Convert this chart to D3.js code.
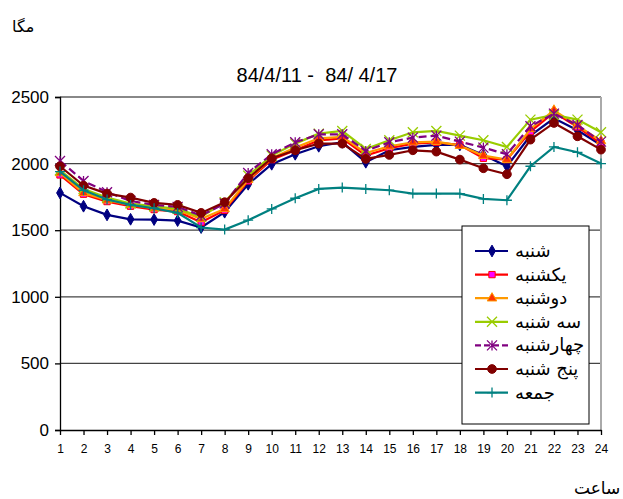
<!DOCTYPE html>
<html lang="fa">
<head>
<meta charset="utf-8">
<title>مگا</title>
<script src="https://d3js.org/d3.v7.min.js"></script>
<style>
  body { margin: 0; background: #fff; }
  .axis text { font-family: Arial, "Liberation Sans", sans-serif; fill: #000; }
  .fa { font-family: "DejaVu Serif", "DejaVu Sans", serif; }
</style>
</head>
<body>
<script>
// hours on the x axis
const hours = d3.range(1, 25);
const yTicks = [0, 500, 1000, 1500, 2000, 2500];

const dayNames = ["شنبه", "یکشنبه", "دوشنبه", "سه شنبه", "چهارشنبه", "پنج شنبه", "جمعه"];

// load values (MW)
const shanbe = [1780, 1680, 1615, 1582, 1580, 1572, 1520, 1635, 1845, 1995, 2070, 2130, 2160, 2010, 2100, 2125, 2140, 2140, 2065, 1980, 2210, 2340, 2250, 2140];
const yekshanbe = [1915, 1770, 1715, 1680, 1655, 1640, 1560, 1650, 1870, 2030, 2100, 2175, 2190, 2060, 2115, 2150, 2160, 2140, 2040, 2030, 2240, 2385, 2275, 2150];
const doshanbe = [1930, 1780, 1725, 1690, 1665, 1650, 1585, 1660, 1880, 2040, 2120, 2190, 2200, 2080, 2130, 2160, 2165, 2135, 2060, 2030, 2260, 2400, 2285, 2170];
const seshanbe = [1950, 1810, 1745, 1700, 1680, 1660, 1600, 1710, 1910, 2060, 2150, 2225, 2245, 2110, 2175, 2235, 2245, 2210, 2175, 2125, 2330, 2365, 2330, 2235];
const chaharshanbe = [2020, 1870, 1785, 1720, 1690, 1675, 1610, 1700, 1930, 2070, 2160, 2220, 2220, 2095, 2160, 2195, 2210, 2165, 2120, 2070, 2280, 2375, 2290, 2165];
const panjshanbe = [1980, 1835, 1775, 1745, 1705, 1690, 1630, 1710, 1890, 2040, 2100, 2150, 2150, 2035, 2065, 2100, 2090, 2030, 1965, 1920, 2180, 2305, 2205, 2105];
const jome = [1940, 1800, 1730, 1690, 1665, 1630, 1520, 1505, 1575, 1660, 1740, 1810, 1820, 1810, 1800, 1775, 1775, 1775, 1735, 1725, 1980, 2125, 2085, 2000];

const series = [
  { name: dayNames[0], values: shanbe, line: "#000080", fill: "#000080", marker: "diamond" },
  { name: dayNames[1], values: yekshanbe, line: "#ff0000", fill: "#ff00ff", marker: "square" },
  { name: dayNames[2], values: doshanbe, line: "#ff9900", fill: "#ff3300", marker: "triangle" },
  { name: dayNames[3], values: seshanbe, line: "#99cc00", fill: "#99cc00", marker: "x" },
  { name: dayNames[4], values: chaharshanbe, line: "#800080", fill: "#800080", marker: "star", dash: "8,4" },
  { name: dayNames[5], values: panjshanbe, line: "#800000", fill: "#800000", marker: "circle" },
  { name: dayNames[6], values: jome, line: "#008080", fill: "#008080", marker: "plus" }
];

const width = 623, height = 499;
const svg = d3.select("body").append("svg")
  .attr("width", width).attr("height", height);

const x = d3.scalePoint().domain(hours).range([60, 601]);
const y = d3.scaleLinear().domain([0, 2500]).range([430, 97]);

// gridlines
svg.append("g").selectAll("line")
  .data(yTicks.filter(d => d > 0))
  .join("line")
  .attr("x1", 60).attr("x2", 601)
  .attr("y1", d => y(d)).attr("y2", d => y(d))
  .attr("stroke", d => d === 2500 ? "#888" : "#444")
  .attr("stroke-width", d => d === 2500 ? 2 : 1.3);

// right border of plot area
svg.append("line")
  .attr("x1", 601).attr("x2", 601).attr("y1", 97).attr("y2", 430)
  .attr("stroke", "#aaa").attr("stroke-width", 2);

// axes
const yAxis = svg.append("g").attr("class", "axis")
  .attr("transform", "translate(60,0)")
  .call(d3.axisLeft(y).tickValues(yTicks).tickSize(5).tickPadding(6).tickFormat(d3.format("d")));
yAxis.selectAll("text").style("font-size", "17px");
yAxis.selectAll("line, path").attr("stroke", "#000").attr("stroke-width", 1.3);

const xAxis = svg.append("g").attr("class", "axis")
  .attr("transform", "translate(0,430)")
  .call(d3.axisBottom(x).tickSize(5).tickPadding(9).tickSizeOuter(0));
xAxis.selectAll("text").style("font-size", "12px");
xAxis.selectAll("line, path").attr("stroke", "#000").attr("stroke-width", 1.3);

function markerPath(type, s) {
  if (type === "diamond") return d3.symbol(d3.symbolDiamond, 40)();
  if (type === "square") return d3.symbol(d3.symbolSquare, 40)();
  if (type === "triangle") return d3.symbol(d3.symbolTriangle, 40)();
  if (type === "circle") return d3.symbol(d3.symbolCircle, 60)();
  if (type === "x") return `M${-s},${-s}L${s},${s}M${-s},${s}L${s},${-s}`;
  if (type === "star") return `M${-s},${-s}L${s},${s}M${-s},${s}L${s},${-s}M0,${-s}L0,${s}`;
  if (type === "plus") return `M${-s},0L${s},0M0,${-s}L0,${s}`;
}
const strokeOnly = t => t === "x" || t === "star" || t === "plus";

const line = d3.line().x((d, i) => x(hours[i])).y(d => y(d));

series.forEach(s => {
  const g = svg.append("g");
  g.append("path")
    .attr("d", line(s.values))
    .attr("fill", "none")
    .attr("stroke", s.line)
    .attr("stroke-width", 2.2)
    .attr("stroke-dasharray", s.dash || null);
  g.selectAll("path.m")
    .data(s.values)
    .join("path")
    .attr("class", "m")
    .attr("transform", (d, i) => `translate(${x(hours[i])},${y(d)})`)
    .attr("d", markerPath(s.marker, 5))
    .attr("fill", strokeOnly(s.marker) ? "none" : s.fill)
    .attr("stroke", strokeOnly(s.marker) ? s.fill : s.line)
    .attr("stroke-width", strokeOnly(s.marker) ? 1.3 : 1);
});

// legend
const legend = svg.append("g").attr("transform", "translate(462,226)");
legend.append("rect")
  .attr("width", 127).attr("height", 198)
  .attr("fill", "#fff").attr("stroke", "#000").attr("stroke-width", 1);

const item = legend.selectAll("g.item")
  .data(series)
  .join("g")
  .attr("class", "item")
  .attr("transform", (d, i) => `translate(0,${25 + i * 23.6})`);
item.append("line")
  .attr("x1", 13).attr("x2", 46)
  .attr("stroke", d => d.line).attr("stroke-width", 2.2)
  .attr("stroke-dasharray", d => d.dash ? "6,3" : null);
item.append("path")
  .attr("transform", "translate(30,0)")
  .attr("d", d => markerPath(d.marker, 5))
  .attr("fill", d => strokeOnly(d.marker) ? "none" : d.fill)
  .attr("stroke", d => strokeOnly(d.marker) ? d.fill : d.line)
  .attr("stroke-width", d => strokeOnly(d.marker) ? 1.3 : 1);
item.append("text")
  .attr("class", "fa")
  .attr("x", 53).attr("y", 6)
  .style("font-size", "18px")
  .text(d => d.name);

// titles
svg.append("text")
  .attr("x", 317).attr("y", 82)
  .attr("text-anchor", "middle")
  .style("font-family", "Arial, 'Liberation Sans', sans-serif")
  .style("font-size", "20px")
  .style("white-space", "pre")
  .text("84/4/11 -  84/ 4/17");

svg.append("text").attr("class", "fa")
  .attr("x", 12).attr("y", 32)
  .style("font-size", "16px")
  .text("مگا");

svg.append("text").attr("class", "fa")
  .attr("x", 574).attr("y", 494)
  .style("font-size", "17px")
  .text("ساعت");
</script>
</body>
</html>
